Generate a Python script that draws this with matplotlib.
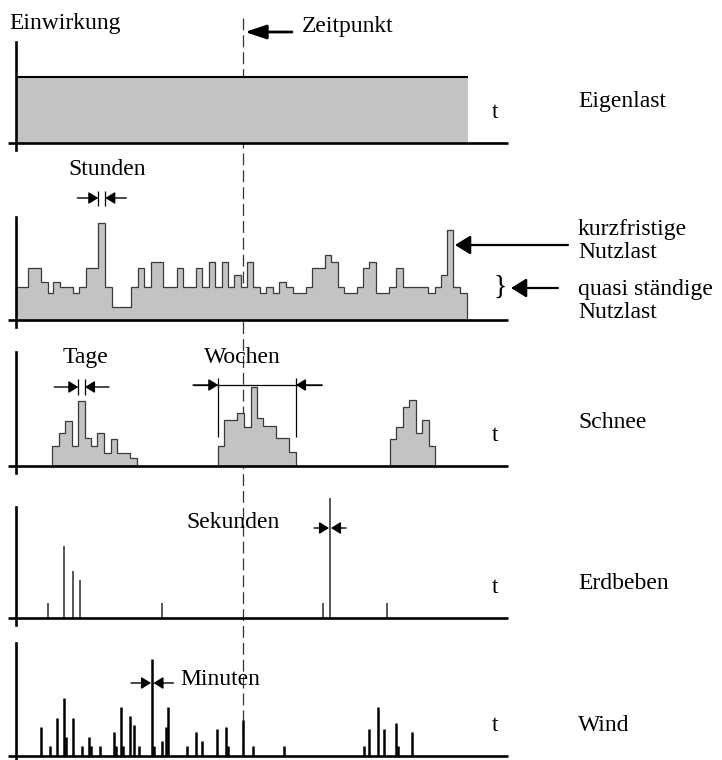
import matplotlib
matplotlib.use('Agg')
from matplotlib import pyplot as plt

# canvas in pixels (dpi 100)
W, H = 722, 760

# Eigenlast: constant height over the whole span
DEAD_SPAN = [16, 468]
DEAD_LOAD = [66]

# Nutzlast: step function (edges in time, heights)
LIVE_EDGES = [16, 27.7, 41, 47.7, 53.3, 60, 73.3, 79.3, 86, 98.3,
              105.3, 111.7, 131, 137.7, 144.3, 150.7, 163.3, 176.7, 182.7, 196,
              202.3, 209, 215, 221.7, 227.7, 234, 240.7, 247.3, 253.3, 260,
              266, 273.3, 279.3, 286, 292.7, 306, 312, 325, 331, 337.7,
              344.3, 356.7, 363.3, 369.3, 376, 389.3, 396, 402.7, 428.3, 435,
              441, 447.3, 453.3, 460, 466.7]
LIVE_LOAD = [33, 52, 38, 27, 38, 33, 27, 33, 52, 97,
             33, 13, 33, 52, 33, 58, 33, 52, 33, 52,
             33, 58, 33, 58, 33, 45, 33, 58, 33, 27,
             33, 27, 38, 33, 27, 33, 52, 65, 58, 33,
             27, 33, 52, 58, 27, 33, 52, 33, 27, 33,
             45, 90, 33, 27]

# Schnee: three snow periods
SNOW_EDGES = [
    [52.3, 59.3, 65, 71.7, 78.3, 85, 91, 97.3, 104, 110.7, 116.7, 130, 136.7],
    [218.3, 224, 236.7, 244, 250.7, 256.7, 263.3, 276, 289.3, 296],
    [390, 396, 402.7, 409.3, 415.7, 422.3, 429, 435],
]
SNOW_LOAD = [
    [20, 33, 45, 20, 65, 28, 20, 33, 13, 27, 13, 8],
    [20, 46, 53, 39, 79, 48, 40, 28, 14],
    [27, 39, 59, 66, 33, 46, 20],
]

# Erdbeben: impulses
QUAKE_T = [48.3, 64, 72.7, 80, 161.7, 323.3, 330, 386.7]
QUAKE_H = [15, 72, 47, 38, 15, 15, 120, 15]

# Wind: gusts
WIND_T = [41, 50, 57.3, 64, 66, 72.7, 81.7, 89, 91, 100,
          114, 116, 120.7, 122.7, 130, 134.3, 139.3, 152.3, 154.3, 161.7,
          166, 168.3, 186.7, 195.7, 202.3, 216.7, 225.7, 227.7, 243.3, 252.7,
          284.3, 364, 369, 377.7, 384.3, 396, 398.3, 411.7]
WIND_H = [29, 10, 38, 58, 19, 38, 10, 19, 10, 10,
          24, 10, 49, 10, 40, 31, 10, 97, 10, 15,
          29, 49, 10, 24, 15, 27, 29, 10, 36, 10,
          10, 10, 27, 49, 27, 33, 10, 24]

PANEL_LABELS = ['Eigenlast', None, 'Schnee', 'Erdbeben', 'Wind']

GRAY = '#c3c3c3'
EDGE = '#3a3a3a'
FS = 17

plt.rcParams['font.family'] = ['Liberation Serif', 'DejaVu Serif']

fig = plt.figure(figsize=(W / 100, H / 100), dpi=100)

# overlay in pixel coordinates, for dashed line, texts and arrows
ov = fig.add_axes([0, 0, 1, 1])
ov.set_xlim(0, W)
ov.set_ylim(H, 0)
ov.set_axis_off()

ov.plot([243, 243], [18, H], color='#333333', lw=0.9, ls=(0, (9.5, 4)))


def arrow(x0, x1, y, head_len, head_w, lw):
    style = f'-|>,head_length={head_len / 13.9:.2f},head_width={head_w / 13.9:.2f}'
    ov.annotate('', xy=(x1, y), xytext=(x0, y),
                arrowprops=dict(arrowstyle=style, mutation_scale=10, lw=lw,
                                color='black', shrinkA=0, shrinkB=0))


def gap_marks(xl, xr, y, y0, y1, reach):
    # two arrows pointing at a small interval, with ticks
    arrow(xl - reach, xl, y, 8, 5, 1.0)
    arrow(xr + reach, xr, y, 8, 5, 1.0)
    if y0 is not None:
        ov.vlines([xl, xr], y0, y1, color='black', lw=0.9)


def label(s, x, y, ha='left'):
    ov.text(x, y, s, fontsize=FS, ha=ha, va='baseline')


label('Einwirkung', 9, 29)
arrow(292, 245, 32, 18, 6, 2.0)
label('Zeitpunkt', 302, 32)

label('Stunden', 107, 175, 'center')
gap_marks(98.3, 105.3, 198, 191, 206, 21)

label('kurzfristige', 578, 235)
label('Nutzlast', 578, 258)
arrow(568, 455, 245, 13, 8, 1.6)
label('quasi ständige', 578, 295)
label('Nutzlast', 578, 318)
ov.text(500, 287, '}', fontsize=20, ha='center', va='center')
arrow(558, 511, 288, 13, 8, 1.6)

label('Tage', 85, 363, 'center')
gap_marks(78.3, 85, 387, 379, 395, 24)

label('Wochen', 242, 363, 'center')
ov.hlines(385, 193, 322, color='black', lw=0.9)
arrow(193, 218.3, 385, 8, 5, 1.0)
arrow(322, 296, 385, 8, 5, 1.0)
ov.vlines([218.3, 296], 378, 437, color='black', lw=0.9)

label('Sekunden', 233, 528, 'center')
gap_marks(329, 331, 528, None, None, 15)

label('Minuten', 180, 685)
gap_marks(151, 153.5, 683, None, None, 20)

BASES = [143, 320, 466, 618, 756]
AXIS_TOPS = [42, 217, 352, 507, 643]


def make_panel(i):
    base = BASES[i]
    top = BASES[i - 1] if i > 0 else 0
    ax = fig.add_axes([0, 1 - base / H, 1, (base - top) / H])
    ax.set_xlim(0, W)
    ax.set_ylim(0, base - top)
    ax.set_axis_off()
    ax.patch.set_visible(False)
    ax.plot([16, 16], [-7, base - AXIS_TOPS[i]], color='black', lw=1.9,
            clip_on=False, zorder=4)
    ax.plot([8, 508], [0, 0], color='black', lw=1.9, clip_on=False,
            solid_capstyle='butt', zorder=4)
    if PANEL_LABELS[i] is not None:
        ax.text(495, 25, 't', fontsize=FS, ha='center', va='baseline')
    return ax


# Eigenlast
ax = make_panel(0)
ax.stairs(DEAD_LOAD, DEAD_SPAN, fill=True, color=GRAY, lw=0)
ax.hlines(DEAD_LOAD[0], DEAD_SPAN[0], DEAD_SPAN[1], color='black', lw=1.5)

# Nutzlast
ax = make_panel(1)
ax.stairs(LIVE_LOAD, LIVE_EDGES, fill=True, color=GRAY, lw=0)
ax.stairs(LIVE_LOAD, LIVE_EDGES, color=EDGE, lw=0.9)

# Schnee
ax = make_panel(2)
for e, h in zip(SNOW_EDGES, SNOW_LOAD):
    ax.stairs(h, e, fill=True, color=GRAY, lw=0)
    ax.stairs(h, e, color=EDGE, lw=0.9)

# Erdbeben
ax = make_panel(3)
ax.vlines(QUAKE_T, 0, QUAKE_H, color='#2a2a2a', lw=1.1)

# Wind
ax = make_panel(4)
ax.vlines(WIND_T, 0, WIND_H, color='black', lw=1.8)

# panel names on the right
for i, name in enumerate(PANEL_LABELS):
    if name is None:
        continue
    off = {0: 36, 2: 38, 3: 29, 4: 25}[i]
    label(name, 578, BASES[i] - off)

fig.savefig('out.png', dpi=100)
